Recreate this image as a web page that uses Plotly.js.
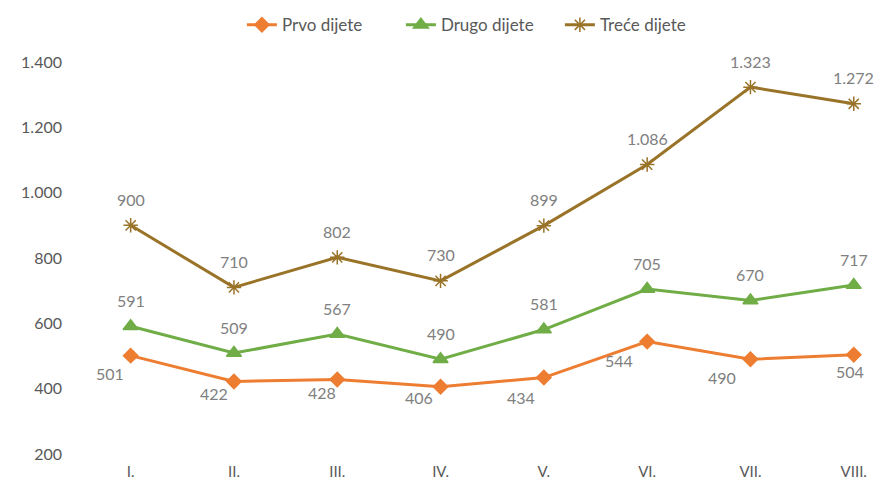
<!DOCTYPE html>
<html>
<head>
<meta charset="utf-8">
<script src="https://cdn.plot.ly/plotly-3.0.1.min.js"></script>
<style>html,body{margin:0;padding:0;background:#fff;}#chart{width:877px;height:481px;}</style>
</head>
<body>
<div id="chart"></div>
<script>
const categories = ["I.", "II.", "III.", "IV.", "V.", "VI.", "VII.", "VIII."];
const prvo = [501, 422, 428, 406, 434, 544, 490, 504];
const drugo = [591, 509, 567, 490, 581, 705, 670, 717];
const trece = [900, 710, 802, 730, 899, 1086, 1323, 1272];
const yTicks = [200, 400, 600, 800, 1000, 1200, 1400];

// label offsets (style only, in pixels)
const prvoOffsets = [[-21,18],[-20,12],[-15,13],[-22,11],[-23,20],[-28,19],[-28,18],[-4,17]];

function fmt(v){ return String(v).replace(/\B(?=(\d{3})+(?!\d))/g, "."); }

const series = [
  {name:"Prvo dijete", y:prvo, color:"#ED7D31", symbol:"diamond", size:11},
  {name:"Drugo dijete", y:drugo, color:"#70AD47", symbol:"triangle-up", size:13},
  {name:"Treće dijete", y:trece, color:"#997328", symbol:"asterisk-open", size:12}
];

const traces = series.map(s => ({
  type:"scatter", mode:"lines+markers", name:s.name,
  x:categories, y:s.y,
  line:{color:s.color, width:3},
  marker:{symbol:s.symbol, size:s.size, color:s.color, line:{color:s.color, width:1.5}}
}));

const labelFont = {family:"Lato, sans-serif", size:16, color:"#808080"};
const annotations = [];
categories.forEach((c,i) => {
  annotations.push({x:c, y:trece[i], text:fmt(trece[i]), showarrow:false, yshift:26, font:labelFont});
  annotations.push({x:c, y:drugo[i], text:fmt(drugo[i]), showarrow:false, yshift:26, font:labelFont});
  annotations.push({x:c, y:prvo[i], text:fmt(prvo[i]), showarrow:false, xshift:prvoOffsets[i][0], yshift:-prvoOffsets[i][1], font:labelFont});
});

const layout = {
  width:877, height:481,
  margin:{l:79, r:0, t:45, b:21},
  paper_bgcolor:"#fff", plot_bgcolor:"#fff",
  font:{family:"Lato, sans-serif", size:16, color:"#595959"},
  showlegend:true,
  legend:{orientation:"h", x:0.503, xanchor:"center", y:0.985, yanchor:"top", yref:"container", font:{size:17, color:"#595959"}, traceorder:"normal", entrywidth:114},
  xaxis:{type:"category", range:[-0.5, 7.225], showgrid:false, zeroline:false, showline:false, ticks:"", ticklabelstandoff:1, tickfont:{size:15, color:"#595959"}},
  yaxis:{range:[181.6, 1452], tickvals:yTicks, ticktext:yTicks.map(fmt), showgrid:false, zeroline:false, showline:false, ticks:"", ticklabelstandoff:16, tickfont:{size:16, color:"#595959"}},
  annotations:annotations
};
Plotly.newPlot("chart", traces, layout, {displayModeBar:false, staticPlot:true});
</script>
</body>
</html>
